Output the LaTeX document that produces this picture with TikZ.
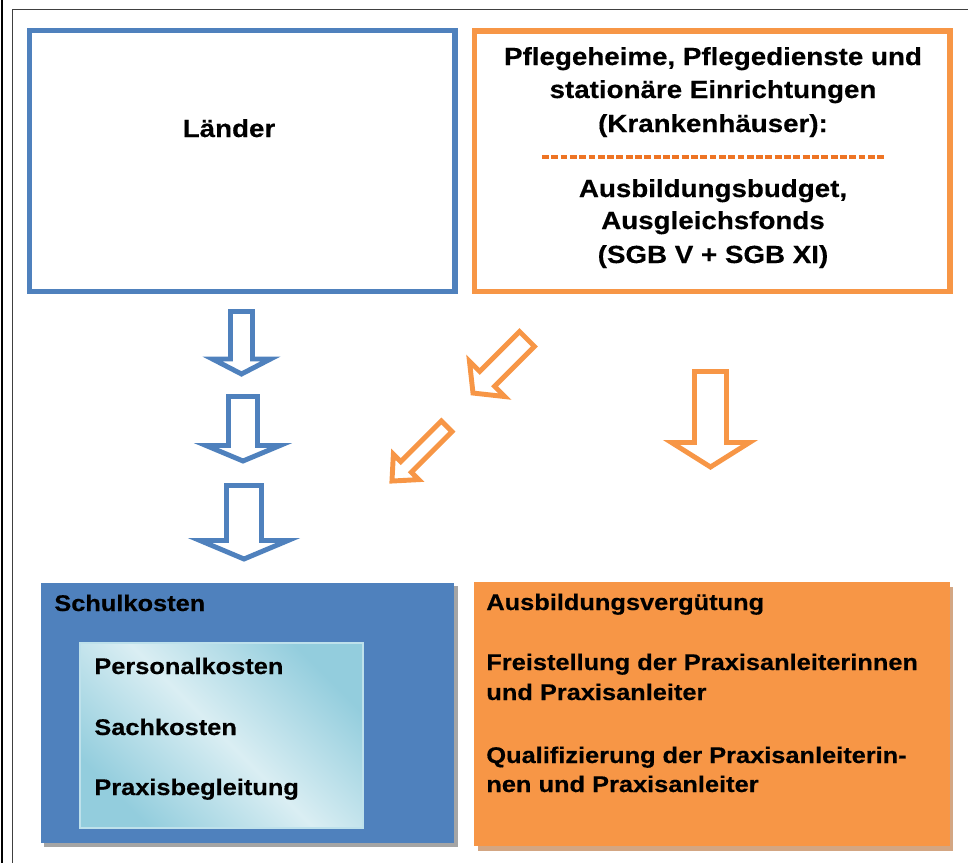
\documentclass[tikz,border=0pt]{standalone}
\usepackage{fontspec}
\setmainfont{Liberation Sans}[FakeStretch=1.12, BoldFeatures={FakeBold=0.4}]

\definecolor{kostenblau}{HTML}{4F81BD}
\definecolor{fondsorange}{HTML}{F79646}
\definecolor{strichorange}{HTML}{EE7424}
\definecolor{tuerkisrand}{HTML}{93CDDD}
\definecolor{tuerkishell}{HTML}{DAEEF3}
\definecolor{rahmengrau}{HTML}{404040}
\definecolor{schattengrau}{HTML}{A5A5A5}
\definecolor{schattenbraun}{HTML}{D3A683}

\tikzset{
  kastenlinie/.style={line width=3.2pt},
  pfeillinie/.style={line width=2.8pt, fill=white},
  grosstext/.style={font=\bfseries\fontsize{14.1}{17}\selectfont, inner sep=0pt, anchor=base},
  kleintext/.style={font=\bfseries\fontsize{12.9}{15}\selectfont, inner sep=0pt, anchor=base west},
}

% #1 Farbe, #2 Start, #3 Winkel, #4 Laenge, #5 halbe Schaftbreite, #6 halbe Spitzenbreite, #7 Spitzenlaenge
\newcommand{\blockpfeil}[7]{%
  \begin{scope}[shift={#2}, rotate=#3]
    \draw[#1, pfeillinie] (0,-#5) -- ({#4-#7},-#5) -- ({#4-#7},-#6) -- (#4,0)
      -- ({#4-#7},#6) -- ({#4-#7},#5) -- (0,#5) -- cycle;
  \end{scope}}

\begin{document}
\begin{tikzpicture}[x=0.02cm, y=-0.02cm]
            \useasboundingbox (0,0) rectangle (968,863);

            % Rahmen
            \draw[black, line width=1.2pt] (2,0) -- (2,863);
            \draw[rahmengrau, line width=0.6pt] (12.5,863) -- (12.5,9.5) -- (968,9.5);

            % obere Kaesten
            \draw[kostenblau, kastenlinie] (29.5,30.5) rectangle (455,291.5);
            \draw[fondsorange, kastenlinie] (474.5,31) rectangle (950,291.5);
            \draw[strichorange, line width=2.1pt, dash pattern=on 3.9pt off 1.4pt] (542,157) -- (885,157);

            % untere Kaesten
            \fill[schattengrau] (44,586) rectangle (458,847);
            \fill[kostenblau] (41,583) rectangle (454,843);
            \fill[schattenbraun] (478,587) rectangle (953,851);
            \fill[fondsorange] (474,582) rectangle (950,846);
            \shade[top color=tuerkisrand, bottom color=tuerkisrand, middle color=tuerkishell, shading angle=-45] (80,643) rectangle (363,828);
            \draw[tuerkisrand!60!white, line width=0.6pt] (80,643) rectangle (363,828);

            % Pfeile
            \blockpfeil{kostenblau}{(241.5,311.5)}{-90}{62.5}{11}{29}{15}
            \blockpfeil{kostenblau}{(243,396.5)}{-90}{64.5}{14.5}{37}{15.5}
            \blockpfeil{kostenblau}{(244,485.5)}{-90}{73.5}{17.5}{44}{18.5}
            \blockpfeil{fondsorange}{(710.5,371.5)}{-90}{95.5}{16}{39}{24.5}
            \blockpfeil{fondsorange}{(527,339)}{-135}{76.4}{10.5}{25}{20}
            \blockpfeil{fondsorange}{(446.7,426.3)}{-135}{77.4}{7.5}{18}{20}

            % Texte
            \node[grosstext] (laender) at (229,137) {Länder};
            \node[grosstext] (heime) at (713,65) {Pflegeheime, Pflegedienste und};
            \node[grosstext] (stationaer) at (713,98) {stationäre Einrichtungen};
            \node[grosstext] (kranken) at (713,132) {(Krankenhäuser):};
            \node[grosstext] (budget) at (713,197) {Ausbildungsbudget,};
            \node[grosstext] (fonds) at (713,229) {Ausgleichsfonds};
            \node[grosstext] (sgb) at (713,263) {(SGB V + SGB XI)};

            \node[kleintext] (schule) at (54,611) {Schulkosten};
            \node[kleintext] (personal) at (94,674) {Personalkosten};
            \node[kleintext] (sach) at (94,735) {Sachkosten};
            \node[kleintext] (begleitung) at (94,795) {Praxisbegleitung};

            \node[kleintext] (verguetung) at (486,610) {Ausbildungsvergütung};
            \node[kleintext] (frei1) at (486,670) {Freistellung der Praxisanleiterinnen};
            \node[kleintext] (frei2) at (486,700) {und Praxisanleiter};
            \node[kleintext] (quali1) at (486,763) {Qualifizierung der Praxisanleiterin-};
            \node[kleintext] (quali2) at (486,792) {nen und Praxisanleiter};
        \end{tikzpicture}
\end{document}
